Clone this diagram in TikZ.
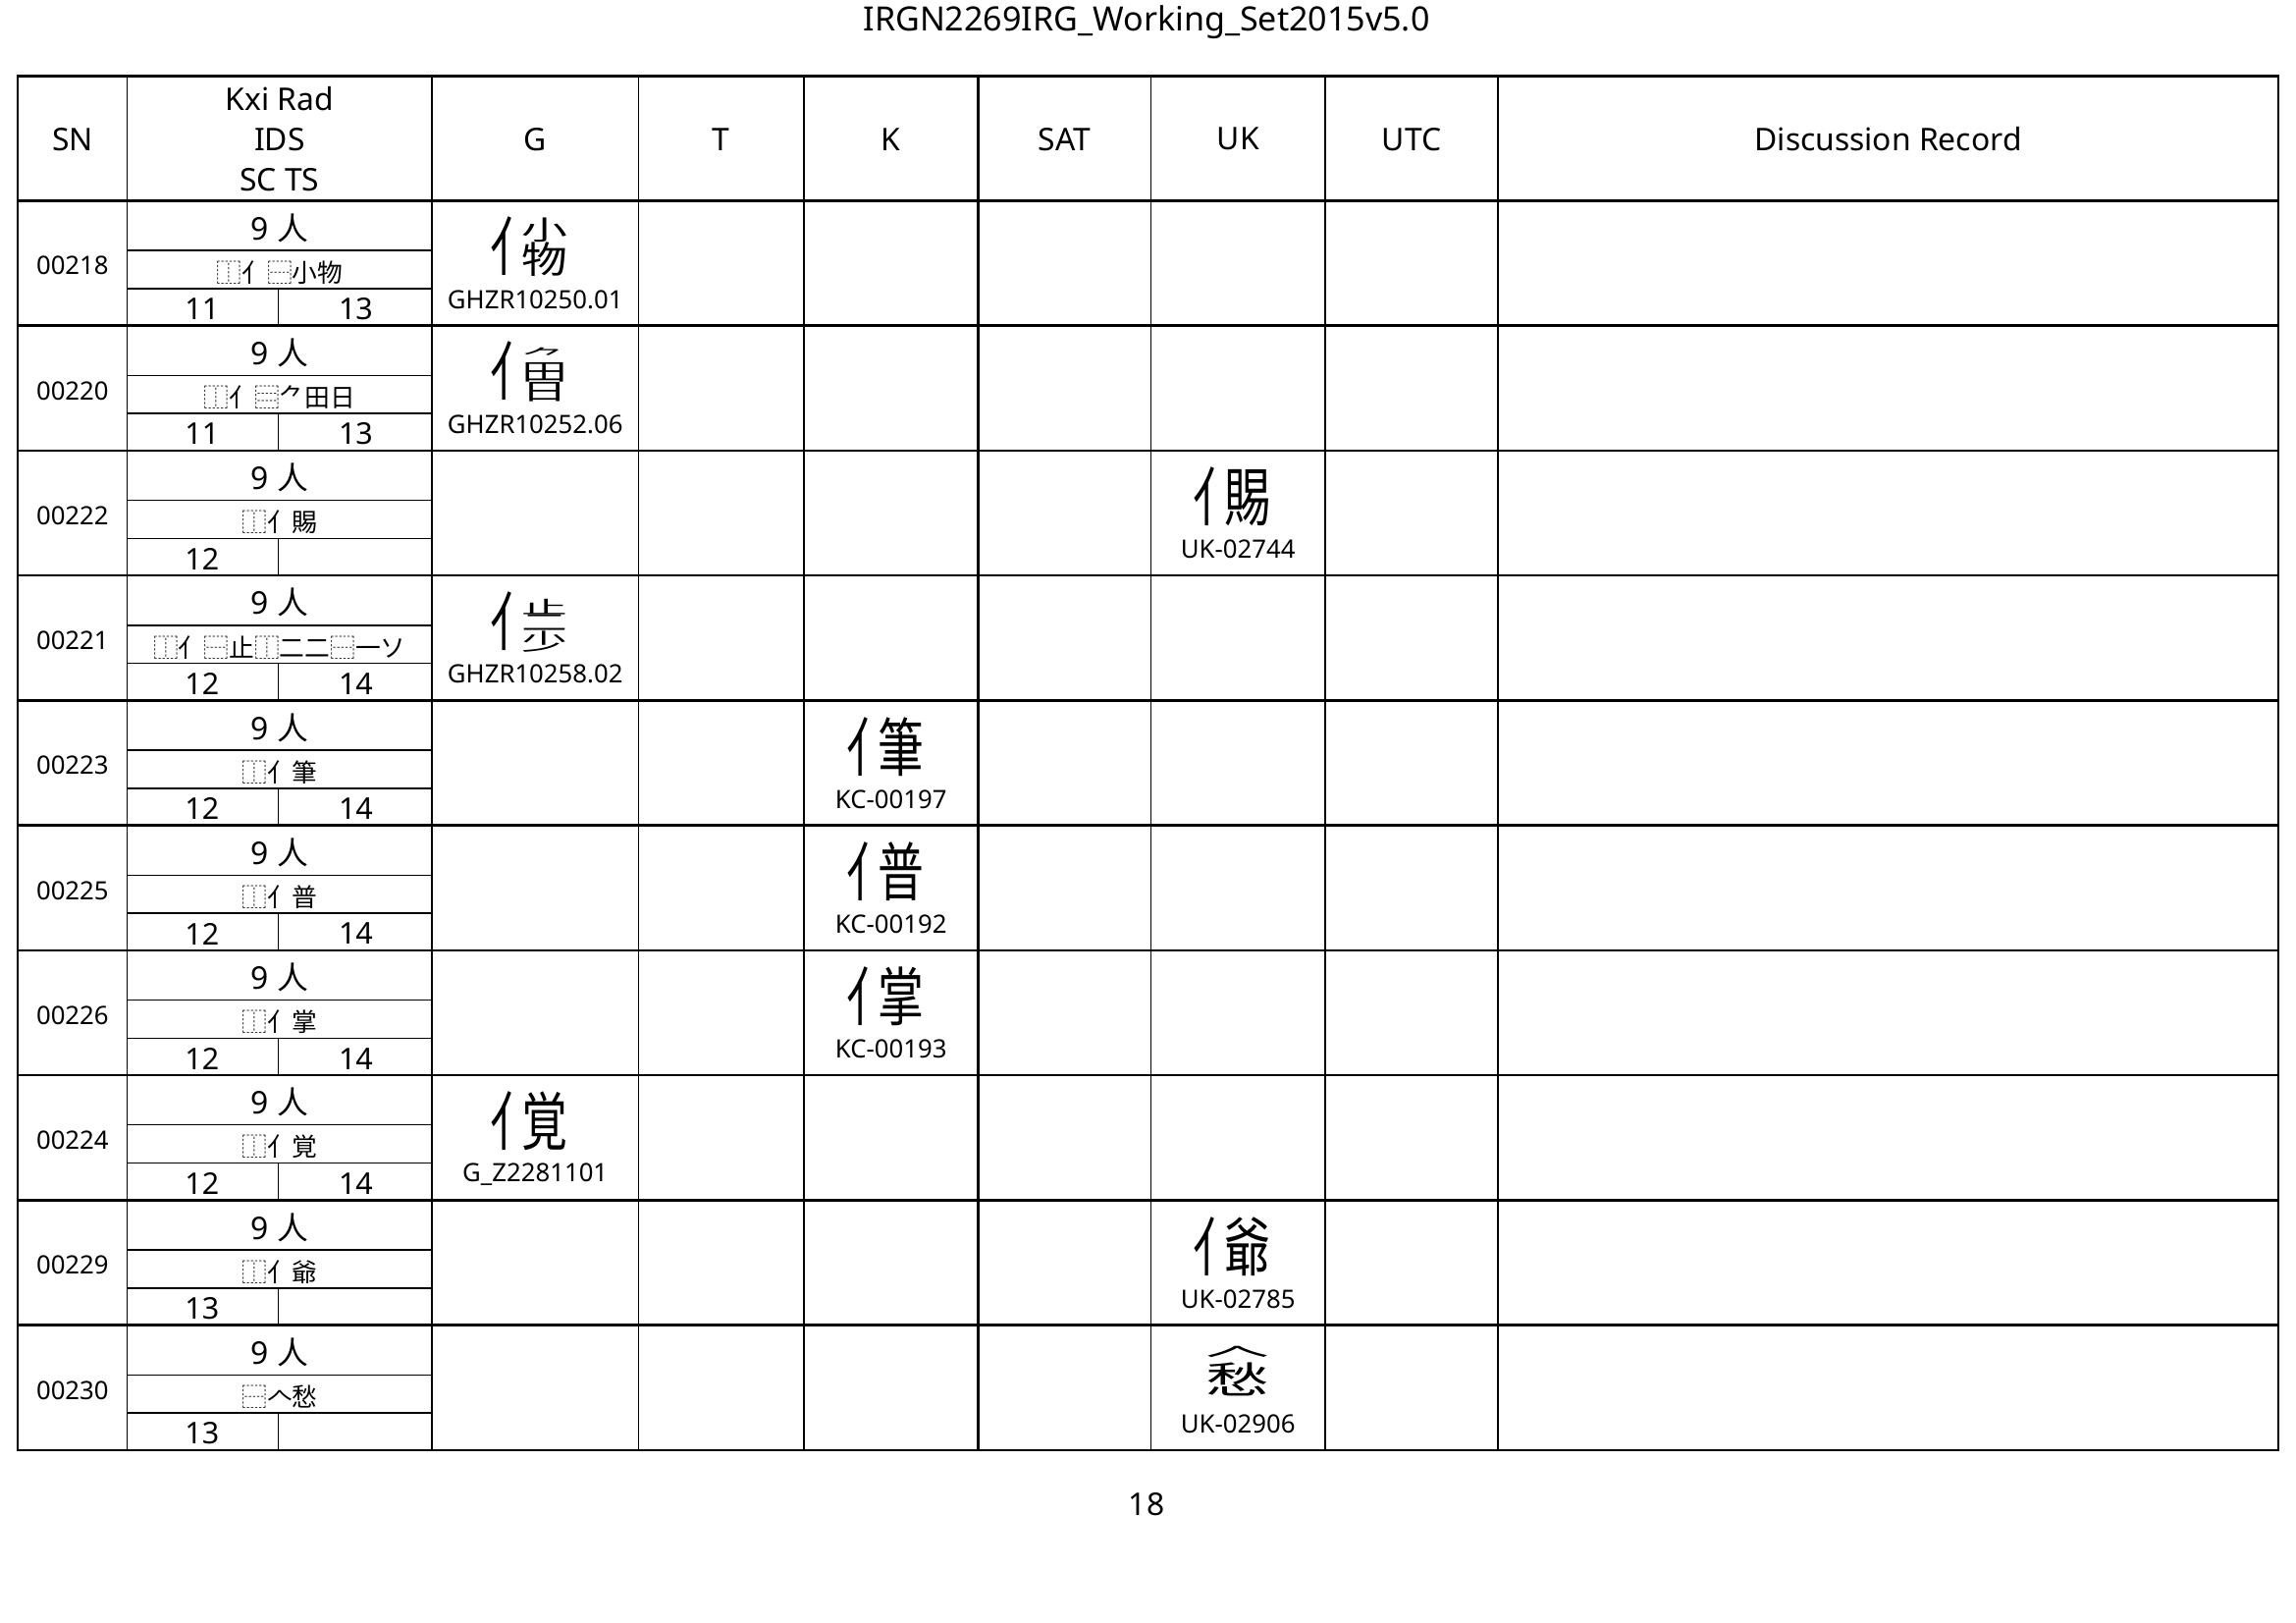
\documentclass[tikz,border=0pt]{standalone}
\usepackage{fontspec}
\usepackage{graphicx}
\setmainfont{Noto Sans}
\newfontfamily\cjk{Noto Sans CJK SC}
% composed glyphs: left/right, top/bottom, top/middle/bottom
\newcommand\glr[2]{\makebox[0.3em]{\scalebox{0.7}[1]{#1}}\makebox[0.7em]{\scalebox{0.72}[1]{#2}}}
\newcommand\gtb[2]{\raisebox{-0.05em}{\vbox{\offinterlineskip\hbox{\scalebox{1}[0.42]{#1}}\hbox{\scalebox{1}[0.58]{#2}}}}}
\newcommand\gtbb[3]{\raisebox{-0.077em}{\vbox{\offinterlineskip\hbox{\scalebox{1}[0.28]{#1}}\hbox{\scalebox{1}[0.36]{#2}}\hbox{\scalebox{1}[0.36]{#3}}}}}
\begin{document}
\begin{tikzpicture}[x=0.18941mm,y=-0.18941mm,
    rowline/.style={line width=0.85pt},
    colline/.style={line width=0.5pt},
    hd/.style={font=\fontsize{11.5}{14.8}\selectfont,align=center,inner sep=0pt},
    sntxt/.style={font=\fontsize{9.3}{11}\selectfont,inner sep=0pt},
    radtxt/.style={font=\fontsize{11.5}{13}\selectfont,inner sep=0pt},
    idstxt/.style={font=\cjk\fontsize{9.3}{11}\selectfont,inner sep=0pt},
    cnttxt/.style={font=\fontsize{11}{13}\selectfont,inner sep=0pt},
    glyphtxt/.style={font=\cjk\fontsize{23.5}{23.5}\selectfont,inner sep=0pt},
    codetxt/.style={font=\fontsize{9.3}{11}\selectfont,inner sep=0pt}]
  \useasboundingbox (0,0) rectangle (1568,1108);
  \node[hd,font=\fontsize{12.3}{14}\selectfont] (title) at (783,15) {IRGN2269IRG\_Working\_Set2015v5.0};
  \node[hd] (page) at (783,1027) {18};
  % header
  \node[hd] (hsn) at (49.5,95) {SN};
  \node[hd] (hkxi) at (191,95) {Kxi Rad\\IDS\\SC TS};
  \foreach \x/\nm/\lab in {365.5/g/G,492.5/t/T,608.5/k/K,727/sat/SAT,845.5/uk/UK,964/utc/UTC,1289.5/dr/Discussion Record}
    \node[hd] (h\nm) at (\x,95) {\lab};
  % grid
  \draw[rowline] (12,52) rectangle (1556,990);
  \foreach \i in {0,...,9} \draw[rowline] (12,137+85.3*\i) -- (1556,137+85.3*\i);
  \foreach \x in {87,295,436,549,786,905,1023} \draw[colline] (\x,52) -- (\x,990);
  \draw[rowline] (668,52) -- (668,990);
  % rows
  \foreach \snum/\idsx/\scn/\tsn/\gx/\glf/\cdx [count=\i from 0] in {
      00218/{⿰亻⿱小物}/11/13/365.5/{\glr{亻}{\gtb{小}{物}}}/GHZR10250.01,
      00220/{⿰亻⿳⺈田日}/11/13/365.5/{\glr{亻}{\gtbb{⺈}{田}{日}}}/GHZR10252.06,
      00222/{⿰亻賜}/12//845.5/{\glr{亻}{賜}}/UK-02744,
      00221/{⿰亻⿱止⿰二二⿱一ソ}/12/14/365.5/{\glr{亻}{\gtbb{止}{二}{少}}}/GHZR10258.02,
      00223/{⿰亻筆}/12/14/608.5/{\glr{亻}{筆}}/KC-00197,
      00225/{⿰亻普}/12/14/608.5/{\glr{亻}{普}}/KC-00192,
      00226/{⿰亻掌}/12/14/608.5/{\glr{亻}{掌}}/KC-00193,
      00224/{⿰亻覚}/12/14/365.5/{\glr{亻}{覚}}/G\_Z2281101,
      00229/{⿰亻爺}/13//845.5/{\glr{亻}{爺}}/UK-02785,
      00230/{⿱𠆢愁}/13//845.5/{\gtb{𠆢}{愁}}/UK-02906}{
    \pgfmathsetmacro\yy{137+85.3*\i}
    \draw[colline] (87,\yy+34) -- (295,\yy+34) (87,\yy+60) -- (295,\yy+60) (190,\yy+60) -- (190,\yy+85.3);
    \node[sntxt] (sn\i) at (49.5,\yy+44.5) {\snum};
    \node[radtxt] (rad\i) at (191,\yy+18.5) {9 {\cjk 人}};
    \node[idstxt] (ids\i) at (191,\yy+49) {\idsx};
    \node[cnttxt] (sc\i) at (138,\yy+74) {\scn};
    \node[cnttxt] (ts\i) at (243,\yy+74) {\tsn};
    \node[glyphtxt] (gl\i) at (\gx,\yy+31.5) {\glf};
    \node[codetxt] (cd\i) at (\gx,\yy+67.5) {\cdx};
  }
\end{tikzpicture}
\end{document}
